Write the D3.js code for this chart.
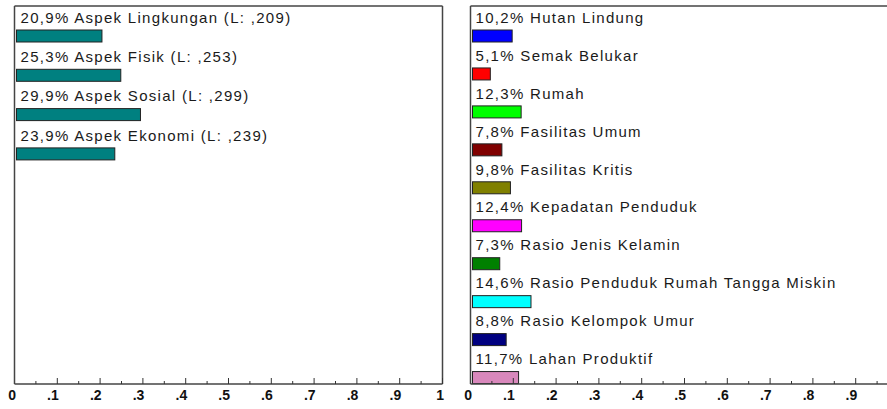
<!DOCTYPE html>
<html>
<head>
<meta charset="utf-8">
<script src="https://cdn.jsdelivr.net/npm/d3@7"></script>
<style>
  body { margin: 0; background: #fff; }
  svg { display: block; }
  .lbl { font-family: "Liberation Sans", Arial, sans-serif; font-size: 15px; fill: #1a1a1a; letter-spacing: 1.3px; }
  .axis text { font-family: "Liberation Sans", Arial, sans-serif; font-size: 14px; font-weight: bold; fill: #111; }
</style>
</head>
<body>
<svg id="chart"></svg>
<script>
// left panel: aspects
var aspekNames = ["Aspek Lingkungan", "Aspek Fisik", "Aspek Sosial", "Aspek Ekonomi"];
var aspekValues = [0.209, 0.253, 0.299, 0.239];
var aspekText = ["20,9% Aspek Lingkungan (L: ,209)", "25,3% Aspek Fisik (L: ,253)",
  "29,9% Aspek Sosial (L: ,299)", "23,9% Aspek Ekonomi (L: ,239)"];

// right panel: indicators
var indikatorNames = ["Hutan Lindung", "Semak Belukar", "Rumah", "Fasilitas Umum", "Fasilitas Kritis",
  "Kepadatan Penduduk", "Rasio Jenis Kelamin", "Rasio Penduduk Rumah Tangga Miskin",
  "Rasio Kelompok Umur", "Lahan Produktif"];
var indikatorValues = [0.102, 0.051, 0.123, 0.078, 0.098, 0.124, 0.073, 0.146, 0.088, 0.117];
var indikatorPct = ["10,2%", "5,1%", "12,3%", "7,8%", "9,8%", "12,4%", "7,3%", "14,6%", "8,8%", "11,7%"];
var indikatorColors = ["#0000ff", "#ff0000", "#00ff00", "#800000", "#808000",
  "#ff00ff", "#008000", "#00ffff", "#000080", "#d988bc"];

var tickValues = d3.range(0, 1.0001, 0.1);
var minorTicks = d3.range(0.05, 1, 0.1);
function fmtTick(d) {
  if (d < 0.001) return "0";
  if (d > 0.999) return "1";
  return "." + Math.round(d * 10);
}

var W = 887, H = 409;
var svg = d3.select("#chart").attr("width", W).attr("height", H);
var topY = 6, axisY = 384;

function panel(opt) {
  var g = svg.append("g");
  var x = d3.scaleLinear().domain([0, 1]).range([opt.x0, opt.x0 + 428]);
  var y = d3.scaleBand().domain(opt.names)
    .range([topY, topY + opt.step * opt.names.length]).padding(0);

  // frame
  g.append("line").attr("x1", x(0)).attr("x2", opt.x1).attr("y1", topY).attr("y2", topY)
    .attr("stroke", "#444").attr("stroke-width", 1.5);
  g.append("line").attr("x1", x(0)).attr("x2", x(0)).attr("y1", topY).attr("y2", axisY)
    .attr("stroke", "#444").attr("stroke-width", 1.5);
  if (opt.rightBorder) {
    g.append("line").attr("x1", x(1)).attr("x2", x(1)).attr("y1", topY).attr("y2", axisY)
      .attr("stroke", "#444").attr("stroke-width", 1.5);
  }

  var rows = g.selectAll(".row").data(opt.names).enter().append("g").attr("class", "row");
  rows.append("rect")
    .attr("x", x(0) + 2)
    .attr("y", function (d) { return y(d) + 24; })
    .attr("width", function (d, i) { return x(opt.values[i]) - x(0) - 4; })
    .attr("height", 12)
    .attr("fill", function (d, i) { return opt.colors[i]; })
    .attr("stroke", "#222").attr("stroke-width", 1);
  rows.append("text").attr("class", "lbl")
    .attr("x", x(0) + opt.textDx)
    .attr("y", function (d) { return y(d) + 16.7; })
    .text(function (d, i) { return opt.labels[i]; });

  // axis
  var ax = g.append("g").attr("class", "axis");
  ax.append("line").attr("x1", x(0)).attr("x2", opt.x1).attr("y1", axisY).attr("y2", axisY)
    .attr("stroke", "#444").attr("stroke-width", 1.5);
  ax.selectAll(".major").data(tickValues.slice(1)).enter().append("line")
    .attr("x1", function (d) { return x(d); }).attr("x2", function (d) { return x(d); })
    .attr("y1", axisY - 6).attr("y2", axisY).attr("stroke", "#333");
  ax.selectAll(".minor").data(minorTicks).enter().append("line")
    .attr("x1", function (d) { return x(d); }).attr("x2", function (d) { return x(d); })
    .attr("y1", axisY - 3).attr("y2", axisY).attr("stroke", "#333");
  // only labels that fall inside the visible area
  ax.selectAll("text").data(tickValues.filter(function (d) { return x(d) < W; }))
    .enter().append("text")
    .attr("x", function (d) { return x(d) + 1.5; })
    .attr("y", 400)
    .attr("text-anchor", "end")
    .text(fmtTick);
}

panel({
  x0: 14.5, x1: 442.5, step: 39.3, rightBorder: true, textDx: 6,
  names: aspekNames, values: aspekValues, labels: aspekText,
  colors: aspekNames.map(function () { return "#008080"; })
});

panel({
  x0: 470.5, x1: 887, step: 37.95, rightBorder: false, textDx: 5,
  names: indikatorNames, values: indikatorValues,
  labels: indikatorNames.map(function (n, i) { return indikatorPct[i] + " " + n; }),
  colors: indikatorColors
});
</script>
</body>
</html>
